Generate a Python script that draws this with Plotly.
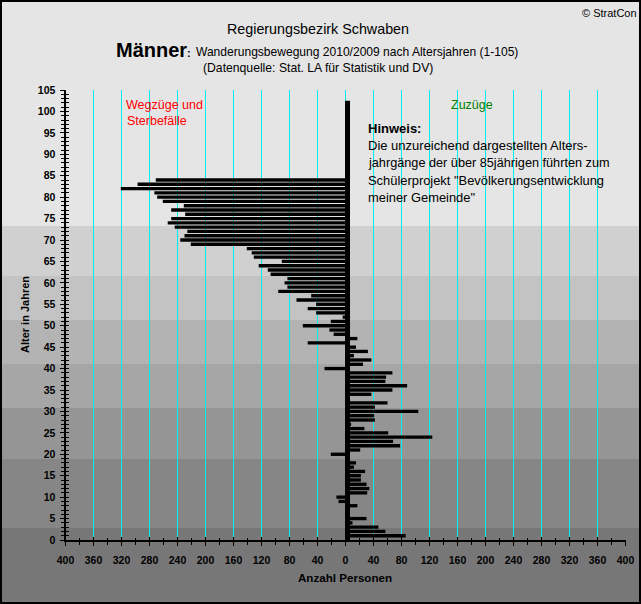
import plotly.graph_objects as go

ages = list(range(1, 85))
# net value per age (1..84): positive = Zuzüge, negative = Wegzüge/Sterbefälle
net = [86, 57, 47, 10, 30, 0, 0, 17, -10, -13,
       31, 34, 30, 22, 22, 28, 12, 15, 0, -21,
       21, 78, 68, 124, 61, 27, 8, 42, 41, 104,
       42, 60, 0, 37, 67, 88, 57, 58, 67, -30,
       25, 37, 12, 32, 15, -54, 17, -17, -23, -61,
       -21, -4, -42, -54, -42, -70, -49, -96, -83, -87,
       -83, -107, -111, -124, -91, -131, -134, -141, -221, -236,
       -230, -226, -244, -254, -249, -229, -249, -231, -261, -269,
       -273, -321, -297, -271]
x_ticks = list(range(-400, 401, 40))
x_labels = [str(abs(v)) for v in x_ticks]
y_ticks = list(range(0, 106, 5))
band_edges = [0, 226, 276, 320, 364, 408, 459, 528, 604]
band_colors = ["#E5E5E5", "#D0D0D0", "#C3C3C3", "#B3B3B3", "#A6A6A6", "#959595", "#868686", "#777777"]

W, H = 641, 604
# paper area (integer margins); axis domain sits half a pixel inside so 1px grid lines stay sharp
ML, MR, T, B = 60, 631, 90, 540
AL, AR = 65.5, 625.5
DOM = [(AL - ML) / (MR - ML), (AR - ML) / (MR - ML)]
px = lambda v: (v - ML) / (MR - ML)
py = lambda v: (B - v) / (B - T)
FONT = "Liberation Sans"

fig = go.Figure()
fig.add_bar(y=ages, x=net, orientation="h", width=0.78,
            marker=dict(color="black", line=dict(width=0)), showlegend=False, hoverinfo="x+y")
# helper trace: inner half of crossing ticks
fig.add_scatter(x=[None], y=[None], xaxis="x2", yaxis="y2", showlegend=False, hoverinfo="skip")

shapes = []
for i, c in enumerate(band_colors):
    shapes.append(dict(type="rect", xref="paper", yref="paper", layer="below",
                       x0=px(0), x1=px(W), y0=py(band_edges[i]), y1=py(band_edges[i + 1]),
                       fillcolor=c, line=dict(width=0)))
shapes.append(dict(type="rect", xref="x", yref="y", x0=-0.7, x1=6.45, y0=0, y1=102.5,
                   fillcolor="black", line=dict(width=0), layer="above"))
shapes.append(dict(type="rect", xref="paper", yref="paper", x0=px(1), x1=px(W - 1), y0=py(1), y1=py(H - 1),
                   line=dict(color="black", width=2), fillcolor="rgba(0,0,0,0)", layer="above"))

def note(text, xp, yp, size=12, color="black", anchor="left", bold=False):
    t = f"<b>{text}</b>" if bold else text
    return dict(text=t, xref="paper", yref="paper", x=px(xp), y=py(yp), xanchor=anchor, yanchor="middle",
                showarrow=False, font=dict(family=FONT, size=size, color=color), align="left",
                xshift=0, yshift=0, borderpad=0, borderwidth=0)

ann = [
    note("© StratCon", 637, 13, 11, anchor="right"),
    note("Regierungsbezirk Schwaben", 318, 29, 14.3, anchor="center"),
    note("Männer", 116, 50, 20, bold=True),
    note(":", 187, 53, 11, bold=True),
    note("Wanderungsbewegung 2010/2009 nach Altersjahren (1-105)", 196, 52, 12.05),
    note("(Datenquelle: Stat. LA für Statistik und DV)", 203, 68, 12.2),
    note("Wegzüge und", 126, 105, 12.5, "#FF0000"),
    note("Sterbefälle", 127, 121, 12.5, "#FF0000"),
    note("Zuzüge", 451, 105, 12.5, "#008000"),
    note("Hinweis:", 368, 128, 13, bold=True),
    note("Die unzureichend dargestellten Alters-", 368, 145, 13),
    note("jahrgänge der über 85jährigen führten zum", 368, 163, 12.7),
    note("Schülerprojekt \"Bevölkerungsentwicklung", 368, 180, 12.9),
    note("meiner Gemeinde\"", 368, 197, 12.9),
    note("<b>Anzahl Personen</b>", 345, 577, 11.6, anchor="center"),
    dict(text="<b>Alter in Jahren</b>", xref="paper", yref="paper", x=px(25), y=py(315), textangle=-90,
         xanchor="center", yanchor="middle", showarrow=False, font=dict(family=FONT, size=11, color="black")),
]
TICKFONT = dict(family=FONT, size=10.5, color="black", weight=700)

fig.update_layout(
    width=W, height=H, autosize=False,
    margin=dict(l=ML, r=W - MR, t=T, b=H - B, pad=0, autoexpand=False),
    paper_bgcolor="#E5E5E5", plot_bgcolor="rgba(0,0,0,0)", bargap=0.25,
    shapes=shapes, annotations=ann, showlegend=False,
    font=dict(family=FONT, size=12, color="black"),
    xaxis=dict(domain=DOM, range=[-400, 400], tickvals=x_ticks, ticktext=x_labels, ticks="outside", ticklen=4, tickwidth=1,
               tickcolor="black", showgrid=True, gridcolor="#00F0F0", gridwidth=1, zeroline=False, automargin=False,
               showline=True, linecolor="black", linewidth=2, tickangle=0, ticklabelstandoff=5,
               tickfont=TICKFONT,
               minor=dict(dtick=20, tick0=0, ticks="outside", ticklen=3, tickcolor="black", tickwidth=1, showgrid=False)),
    yaxis=dict(range=[0, 105], tickvals=y_ticks, ticks="outside", ticklen=4, tickwidth=1, tickcolor="black",
               showgrid=False, zeroline=False, showline=True, linecolor="black", linewidth=2, automargin=False,
               ticklabelstandoff=2, tickfont=TICKFONT,
               minor=dict(dtick=1, tick0=0, ticks="outside", ticklen=3, tickcolor="black", tickwidth=1, showgrid=False)),
    xaxis2=dict(domain=DOM, range=[-400, 400], overlaying="x", anchor="y2", side="bottom", showticklabels=False, automargin=False,
                tickvals=x_ticks, ticks="inside", ticklen=3, tickcolor="black", showgrid=False, zeroline=False,
                minor=dict(dtick=20, tick0=0, ticks="inside", ticklen=2, tickcolor="black")),
    yaxis2=dict(range=[0, 105], overlaying="y", anchor="x2", side="left", showticklabels=False, automargin=False,
                tickvals=y_ticks, ticks="inside", ticklen=3, tickcolor="black", showgrid=False, zeroline=False,
                minor=dict(dtick=1, tick0=0, ticks="inside", ticklen=3, tickcolor="black")),
)
fig.write_html("out.html", config=dict(displayModeBar=False),
               post_script="document.body.style.margin='0';document.body.style.overflow='hidden';")
